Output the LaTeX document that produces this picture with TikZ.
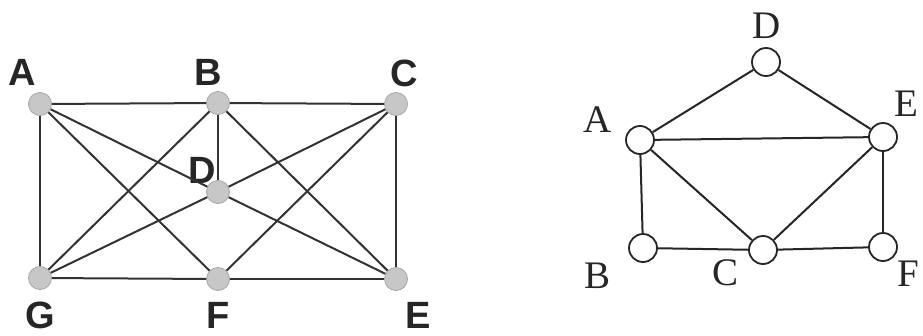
\documentclass[tikz,border=0pt]{standalone}
\usepackage{fontspec}
\setmainfont{Liberation Serif}
\newfontfamily\lsans{Liberation Sans}
\begin{document}
\begin{tikzpicture}[x=1pt,y=-1pt,
  gnode/.style={circle,fill=black!22,draw=black!35,line width=0.8pt,minimum size=23pt,inner sep=0pt},
  wnode/.style={circle,fill=white,draw=black!85,line width=1.8pt,minimum size=28pt,inner sep=0pt},
  glab/.style={font=\lsans\bfseries\fontsize{38}{38}\selectfont,text=black!85,inner sep=0pt},
  wlab/.style={font=\fontsize{39}{39}\selectfont,text=black!85,inner sep=0pt},
  gedge/.style={draw=black!80,line width=2pt},
  wedge/.style={draw=black!85,line width=2pt}]
\useasboundingbox[fill=white] (0,0) rectangle (923,335);
% left graph
\node[gnode] (A) at (40,104) {};
\node[gnode] (B) at (218,103) {};
\node[gnode] (C) at (396,104) {};
\node[gnode] (D) at (218,192) {};
\node[gnode] (G) at (40,278) {};
\node[gnode] (F) at (218,279) {};
\node[gnode] (E) at (396,279) {};
\node[glab] (lA) at (22,72) {A};
\node[glab] (lB) at (208,72) {B};
\node[glab] (lC) at (404,73) {C};
\node[glab] (lD) at (202,170) {D};
\node[glab] (lG) at (40,315) {G};
\node[glab] (lF) at (218,315) {F};
\node[glab] (lE) at (418,315) {E};
\foreach \u/\v in {A/B,B/C,A/G,C/E,G/F,F/E,A/D,A/F,B/D,B/G,B/E,C/D,C/F,D/G,D/E}
  \draw[gedge] (\u) -- (\v);
% right graph
\node[wnode] (a) at (640,140) {};
\node[wnode] (b) at (643,248) {};
\node[wnode] (c) at (763,250) {};
\node[wnode] (d) at (766,62) {};
\node[wnode] (e) at (883,137) {};
\node[wnode] (f) at (883,247) {};
\node[wlab] (la) at (598,120) {A};
\node[wlab] (lb) at (597,276) {B};
\node[wlab] (lc) at (725,273) {C};
\node[wlab] (ld) at (767,26) {D};
\node[wlab] (le) at (906,104) {E};
\node[wlab] (lf) at (908,274) {F};
\foreach \u/\v in {a/d,d/e,a/e,a/b,a/c,b/c,c/f,c/e,e/f}
  \draw[wedge] (\u) -- (\v);
\end{tikzpicture}
\end{document}
